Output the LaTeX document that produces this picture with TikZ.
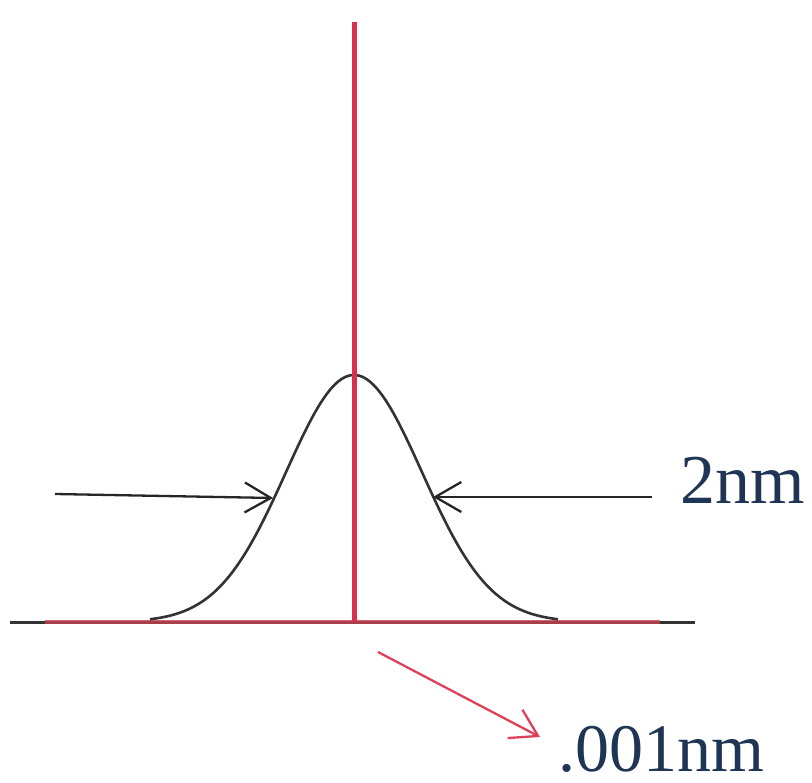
\documentclass[tikz,border=0pt]{standalone}
\usepackage{fontspec}
\setmainfont{Liberation Serif}
\usetikzlibrary{arrows.meta}
\definecolor{spike}{HTML}{D9304F}
\definecolor{basered}{HTML}{C8404F}
\definecolor{curve}{HTML}{333333}
\definecolor{labelblue}{HTML}{1F3556}
\definecolor{redarrow}{HTML}{E04058}
\tikzset{
  curveline/.style={draw=curve, line width=2.6pt},
  widtharrow/.style={draw=black!85, line width=2.3pt, -{Straight Barb[length=26pt,width=30pt,line width=2.3pt]}},
  pointer/.style={draw=redarrow, line width=2.3pt, -{Straight Barb[length=26pt,width=32pt,line width=2.3pt]}},
  labeltext/.style={text=labelblue, inner sep=0pt, text depth=0pt}
}
\begin{document}
\begin{tikzpicture}[x=1pt,y=-1pt]
\useasboundingbox (0,0) rectangle (812,783);
% baseline
\coordinate (bl) at (10,622);
\coordinate (br) at (695,622);
\coordinate (rl) at (45,622);
\coordinate (rr) at (660,622);
\draw[curveline, line width=3pt] (bl) -- (br);
\draw[draw=basered, line width=3.4pt, opacity=0.8] (rl) -- (rr);
% gaussian
\draw[curveline] plot[domain=-3:3, samples=120, smooth] ({354+68*\x}, {622-247*exp(-(\x*\x)/2)});
% spike
\coordinate (st) at (354,22);
\coordinate (sb) at (354,622);
\draw[draw=spike, line width=5pt] (st) -- (sb);
% width arrows
\coordinate (la) at (55,494);
\coordinate (lt) at (273,498);
\coordinate (ra) at (652,497);
\coordinate (rt) at (433,497);
\draw[widtharrow] (la) -- (lt);
\draw[widtharrow] (ra) -- (rt);
% labels
\node[labeltext, anchor=base west] (w) at (680,504) {\fontsize{70}{70}\selectfont 2nm};
\coordinate (ps) at (378,652);
\coordinate (pe) at (540,737);
\draw[pointer] (ps) -- (pe);
\node[labeltext, anchor=base west] (n) at (558,771) {\fontsize{68}{68}\selectfont .001nm};
\end{tikzpicture}
\end{document}
